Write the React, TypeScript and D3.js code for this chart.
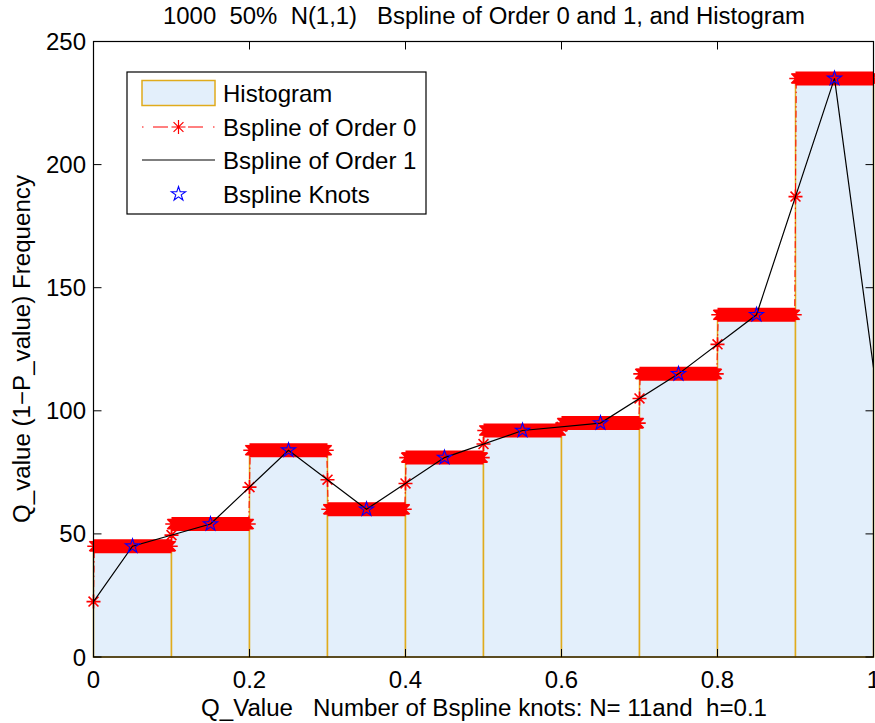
import React from "react";
import * as d3 from "d3";

// Histogram of 1000 Q-values in ten bins of width h = 0.1
const binEdges = [0, 0.1, 0.2, 0.3, 0.4, 0.5, 0.6, 0.7, 0.8, 0.9, 1.0];
const binCounts = [45, 54, 84, 60, 81, 92, 95, 115, 139, 235];
// B-spline knots sit at the bin centres
const knotX = [0.05, 0.15, 0.25, 0.35, 0.45, 0.55, 0.65, 0.75, 0.85, 0.95];
const xTicks = [0, 0.2, 0.4, 0.6, 0.8, 1];
const yTicks = [0, 50, 100, 150, 200, 250];
const legendLabels = ["Histogram", "Bspline of Order 0", "Bspline of Order 1", "Bspline Knots"];

const W = 875;
const H = 723;
const L = 93.5, R = 873.5, T = 41.5, B = 657;
const FONT = "'Liberation Sans', Arial, Helvetica, sans-serif";
const BAR_FILL = "#e3effb";
const BAR_EDGE = "#e0ab1c";

const x = d3.scaleLinear().domain([0, 1]).range([L, R]);
const y = d3.scaleLinear().domain([0, 250]).range([B, T]);

// Order-0 B-spline evaluated on a fine grid; at a knot boundary the value is
// the mean of the two neighbouring pieces.
const N_SAMPLES = 1000;
const binsPer = N_SAMPLES / binCounts.length;
const order0: [number, number][] = d3.range(0, N_SAMPLES).map((i) => {
  const b = Math.floor(i / binsPer);
  const v = i % binsPer === 0 ? ((b > 0 ? binCounts[b - 1] : 0) + binCounts[b]) / 2 : binCounts[b];
  return [i / N_SAMPLES, v];
});

// Order-1 B-spline: linear through the knots, half-weight at the ends
const order1: [number, number][] = [
  [binEdges[0], binCounts[0] / 2],
  ...knotX.map((k, i) => [k, binCounts[i]] as [number, number]),
  [binEdges[binEdges.length - 1], binCounts[binCounts.length - 1] / 2],
];

function asteriskPath(cx: number, cy: number, r: number) {
  const d = r * 0.7071;
  return `M${cx - r},${cy}h${2 * r}M${cx},${cy - r}v${2 * r}M${cx - d},${cy - d}l${2 * d},${2 * d}M${cx - d},${cy + d}l${2 * d},${-2 * d}`;
}

function pentagram(cx: number, cy: number, r: number) {
  const ri = r * 0.382;
  const pts: string[] = [];
  for (let k = 0; k < 10; k++) {
    const a = -Math.PI / 2 + (k * Math.PI) / 5;
    const rr = k % 2 === 0 ? r : ri;
    pts.push(`${cx + rr * Math.cos(a)},${cy + rr * Math.sin(a)}`);
  }
  return `M${pts.join("L")}Z`;
}

export default function App() {
  const line = d3.line<[number, number]>().x((d) => x(d[0])).y((d) => y(d[1]));
  const starsPath = order0.map((d) => asteriskPath(x(d[0]), y(d[1]), 7)).join("");
  const TICK = 8;

  const lgX = 127, lgY = 72, lgW = 299, lgH = 142;
  const rowY = [93, 127, 160, 194];
  const sx0 = 142, sx1 = 215, tx = 223;
  const sxm = (sx0 + sx1) / 2;

  return (
    <svg
      width={W}
      height={H}
      style={{ position: "absolute", left: 0, top: 0, background: "#fff" }}
      fontFamily={FONT}
    >
      <defs>
        <clipPath id="plotClip">
          <rect x={L} y={T} width={R - L} height={B - T} />
        </clipPath>
      </defs>

      {/* histogram bars */}
      <g>
        {binCounts.map((c, i) => (
          <rect
            key={i}
            x={x(binEdges[i])}
            y={y(c)}
            width={x(binEdges[i + 1]) - x(binEdges[i])}
            height={y(0) - y(c)}
            fill={BAR_FILL}
            stroke={BAR_EDGE}
            strokeWidth={1.5}
          />
        ))}
      </g>

      {/* order-0 spline: dash-dot line with asterisk markers */}
      <path
        d={line(order0) || ""}
        fill="none"
        stroke="#ff0000"
        strokeWidth={1}
        strokeDasharray="7,3,1.5,3"
        clipPath="url(#plotClip)"
      />
      <path d={starsPath} fill="none" stroke="#ff0000" strokeWidth={1.6} />

      {/* order-1 spline */}
      <path
        d={line(order1) || ""}
        fill="none"
        stroke="#000"
        strokeWidth={1.2}
        clipPath="url(#plotClip)"
      />

      {/* knots */}
      {knotX.map((k, i) => (
        <path key={i} d={pentagram(x(k), y(binCounts[i]), 7.5)} fill="none" stroke="#0000ff" strokeWidth={1.1} />
      ))}

      {/* axes box and ticks */}
      <rect x={L} y={T} width={R - L} height={B - T} fill="none" stroke="#000" strokeWidth={1.2} />
      {xTicks.map((t) => (
        <g key={"x" + t}>
          <line x1={x(t)} x2={x(t)} y1={B} y2={B - TICK} stroke="#000" />
          <line x1={x(t)} x2={x(t)} y1={T} y2={T + TICK} stroke="#000" />
          <text x={x(t)} y={688} fontSize={24} textAnchor="middle">
            {t}
          </text>
        </g>
      ))}
      {yTicks.map((t) => (
        <g key={"y" + t}>
          <line x1={L} x2={L + TICK} y1={y(t)} y2={y(t)} stroke="#000" />
          <line x1={R} x2={R - TICK} y1={y(t)} y2={y(t)} stroke="#000" />
          <text x={86} y={y(t) + 8.5} fontSize={24} textAnchor="end">
            {t}
          </text>
        </g>
      ))}

      {/* title and axis labels */}
      <text
        x={484}
        y={24}
        fontSize={23}
        textAnchor="middle"
        style={{ whiteSpace: "pre" }}
        textLength={642}
        lengthAdjust="spacingAndGlyphs"
      >
        {"1000  50%  N(1,1)   Bspline of Order 0 and 1, and Histogram"}
      </text>
      <text
        x={484}
        y={716}
        fontSize={23}
        textAnchor="middle"
        style={{ whiteSpace: "pre" }}
        textLength={566}
        lengthAdjust="spacingAndGlyphs"
      >
        {"Q_Value   Number of Bspline knots: N= 11and  h=0.1"}
      </text>
      <text
        transform="translate(30,349) rotate(-90)"
        fontSize={23}
        textAnchor="middle"
        textLength={348}
        lengthAdjust="spacingAndGlyphs"
      >
        {"Q_value (1\u2212P_value) Frequency"}
      </text>

      {/* legend */}
      <g>
        <rect x={lgX} y={lgY} width={lgW} height={lgH} fill="#fff" stroke="#000" strokeWidth={1.2} />
        <rect x={sx0} y={rowY[0] - 12.5} width={sx1 - sx0} height={25} fill={BAR_FILL} stroke={BAR_EDGE} strokeWidth={1.5} />
        <g stroke="#ff0000" strokeWidth={1}>
          <line x1={sx0} x2={sx0 + 1.5} y1={rowY[1]} y2={rowY[1]} />
          <line x1={sx0 + 11} x2={sx0 + 26} y1={rowY[1]} y2={rowY[1]} />
          <line x1={sx1 - 27} x2={sx1 - 12} y1={rowY[1]} y2={rowY[1]} />
          <line x1={sx1 - 2} x2={sx1 - 0.5} y1={rowY[1]} y2={rowY[1]} />
        </g>
        <path d={asteriskPath(sxm, rowY[1], 7)} fill="none" stroke="#ff0000" strokeWidth={1.2} />
        <line x1={sx0} x2={sx1} y1={rowY[2]} y2={rowY[2]} stroke="#000" strokeWidth={1.2} />
        <path d={pentagram(sxm, rowY[3], 7.5)} fill="none" stroke="#0000ff" strokeWidth={1.1} />
        {legendLabels.map((lab, i) => (
          <text key={lab} x={tx} y={rowY[i] + 8.5} fontSize={24}>
            {lab}
          </text>
        ))}
      </g>
    </svg>
  );
}
